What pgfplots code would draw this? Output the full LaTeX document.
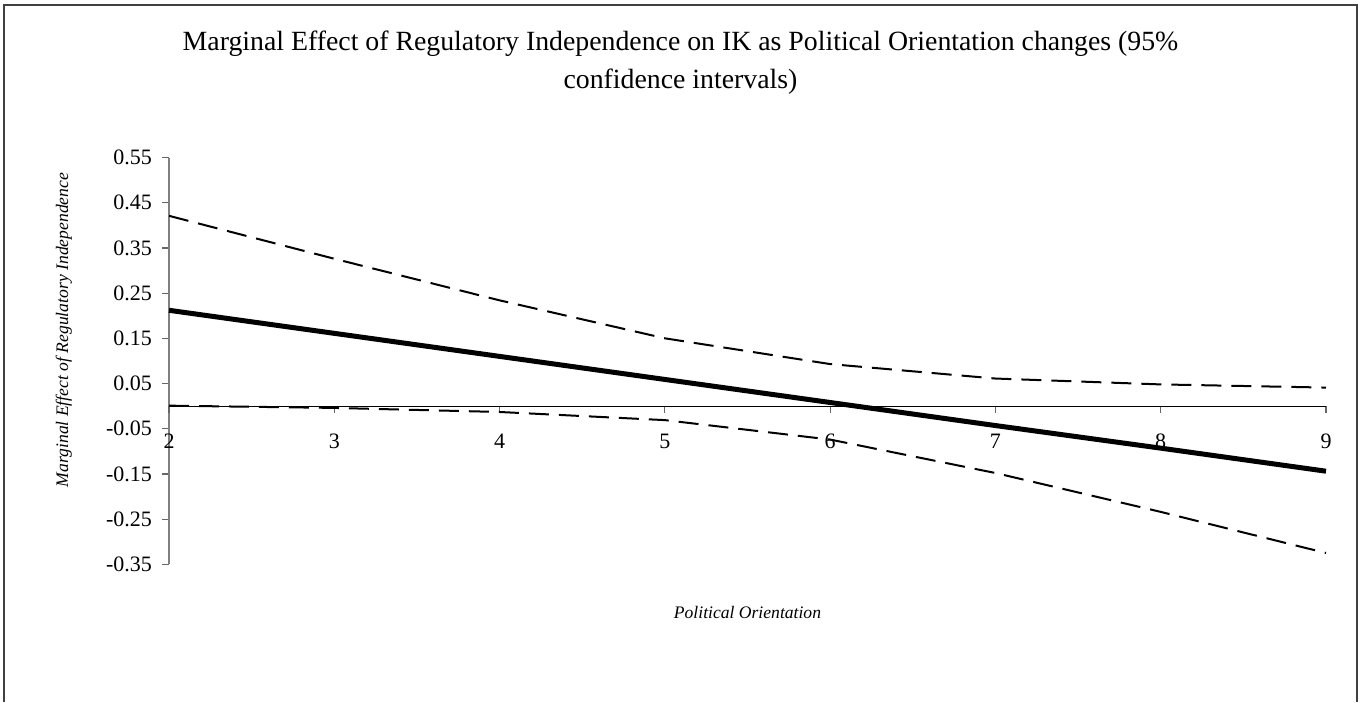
\documentclass[border=0pt]{standalone}
\usepackage{pgfplots}
\pgfplotsset{compat=1.18}
\usepackage{fontspec}
\setmainfont{Liberation Serif}

% marginal effect and its 95% confidence bounds
\pgfplotstableread{
x   me      lo      hi
2   0.212   0.001   0.421
3   0.161  -0.004   0.326
4   0.110  -0.013   0.234
5   0.059  -0.031   0.150
6   0.008  -0.074   0.093
7  -0.043  -0.148   0.061
8  -0.093  -0.234   0.048
9  -0.144  -0.325   0.041
}\metable

\begin{document}
\begin{tikzpicture}[x=1pt,y=1pt]
\useasboundingbox (0,0) rectangle (682,-351);
\draw[line width=1pt, color=black!75] (2,-351) -- (2,-2.5) -- (678.5,-2.5) -- (678.5,-351);
\node[font=\fontsize{13.9}{16}\selectfont, anchor=base] at (340.25,-25.3)
  {Marginal Effect of Regulatory Independence on IK as Political Orientation changes (95\%};
\node[font=\fontsize{13.9}{16}\selectfont, anchor=base] at (340.25,-44.15)
  {confidence intervals)};
\begin{axis}[
  at={(84.5pt,-282.15pt)}, anchor=south west,
  scale only axis, width=578.5pt, height=203.4pt,
  xmin=2, xmax=9, ymin=-0.35, ymax=0.55,
  axis x line=middle, axis y line=left,
  hide obscured x ticks=false, hide obscured y ticks=false,
  x axis line style={-, black, line width=0.6pt},
  y axis line style={-, black!50, line width=0.6pt},
  tick align=outside, major tick length=3.5pt,
  tick style={black!60, line width=0.6pt},
  xtick={3,4,5,6,7,8,9},
  xticklabels={3,4,5,6,7,8,9},
  extra x ticks={2},
  extra x tick labels={2},
  extra x tick style={tick style={black!60, line width=0.6pt}},
  ytick={-0.35,-0.25,-0.15,-0.05,0.05,0.15,0.25,0.35,0.45,0.55},
  yticklabels={-0.35,-0.25,-0.15,-0.05,0.05,0.15,0.25,0.35,0.45,0.55},
  ticklabel style={font=\fontsize{11}{13}\selectfont},
  xticklabel style={yshift=-7pt},
  yticklabel style={xshift=-1.5pt},
  xlabel={Political Orientation},
  ylabel={Marginal Effect of Regulatory Independence},
  label style={font=\fontsize{8.8}{10}\selectfont\itshape},
  xlabel style={at={(axis description cs:0.5,0)}, anchor=center, yshift=-23.85pt},
  ylabel style={at={(axis description cs:-0.0908,0.576)}, anchor=center},
  clip=false,
]
\addplot[black, line width=2.5pt, line join=round] table[x=x, y=me] {\metable};
\addplot[black, line width=1pt, dash pattern=on 10pt off 5pt] table[x=x, y=hi] {\metable};
\addplot[black, line width=1pt, dash pattern=on 10pt off 5pt] table[x=x, y=lo] {\metable};
\end{axis}
\end{tikzpicture}
\end{document}
